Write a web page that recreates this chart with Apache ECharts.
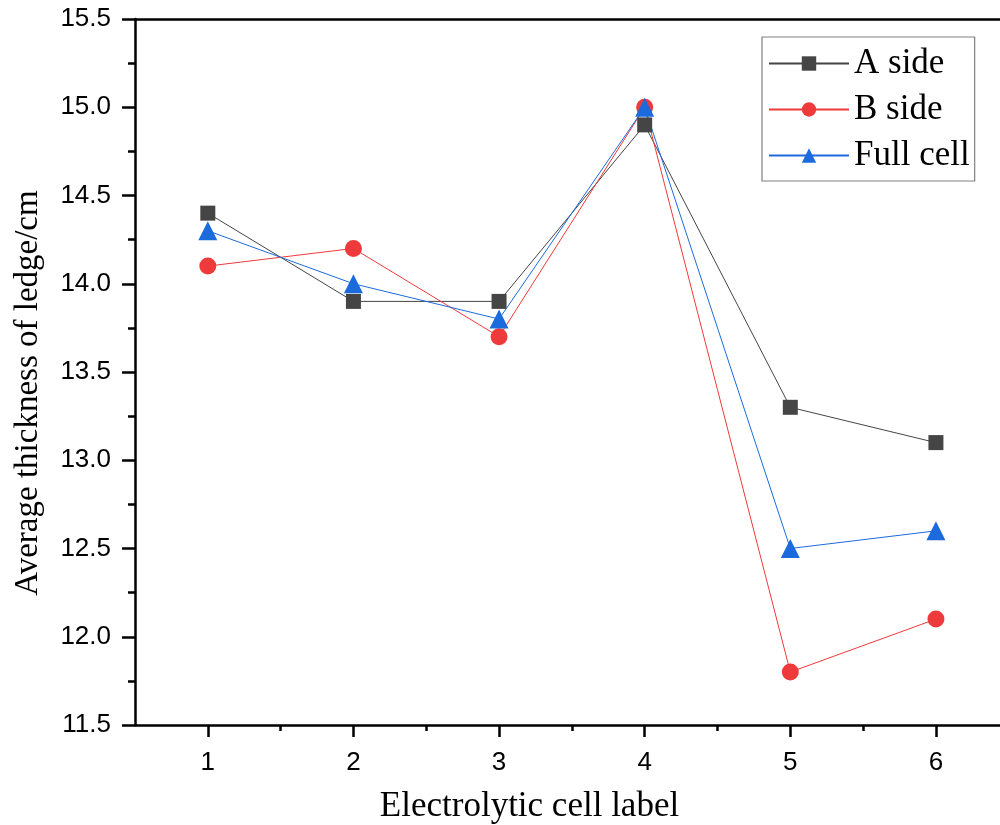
<!DOCTYPE html>
<html>
<head>
<meta charset="utf-8">
<script src="https://cdn.jsdelivr.net/npm/echarts@6/dist/echarts.min.js"></script>
<style>html,body{margin:0;padding:0;background:#fff;overflow:hidden}#c{width:1000px;height:825px}</style>
</head>
<body>
<div id="c"></div>
<script>
const categories = [1, 2, 3, 4, 5, 6];
const aSide = [14.4, 13.9, 13.9, 14.9, 13.3, 13.1];
const bSide = [14.1, 14.2, 13.7, 15.0, 11.8, 12.1];
const fullCell = [14.3, 14.0, 13.8, 15.0, 12.5, 12.6];
const yTicks = [11.5, 12.0, 12.5, 13.0, 13.5, 14.0, 14.5, 15.0, 15.5];
const xMinorTicks = [1.5, 2.5, 3.5, 4.5, 5.5];

const pairs = arr => arr.map((v, i) => [categories[i], v]);
const chart = echarts.init(document.getElementById('c'), null, {renderer: 'canvas'});
const sans = 'Liberation Sans, Arial, sans-serif';
const serif = 'Liberation Serif, Times New Roman, serif';
const axisLine = {show: true, lineStyle: {color: '#000', width: 2.5}};
const tickStyle = {width: 2.5, color: '#000'};
const xMin = 0.5, xMax = 6.44;
chart.setOption({
  animation: false,
  grid: {left: 135, top: 19, right: 0, bottom: 100, containLabel: false, outerBoundsMode: 'none'},
  legend: {
    orient: 'vertical', left: 762, top: 37,
    padding: [9, 5, 8, 6], itemGap: 11,
    itemWidth: 80, itemHeight: 18,
    borderColor: '#808080', borderWidth: 1.2,
    textStyle: {fontFamily: serif, fontSize: 35, color: '#000'},
    data: ['A side', 'B side', 'Full cell']
  },
  xAxis: [{
    type: 'value', position: 'bottom', min: xMin, max: xMax,
    axisLine: axisLine,
    axisTick: {show: true, inside: false, length: 12, lineStyle: tickStyle, customValues: categories},
    splitLine: {show: false},
    axisLabel: {margin: 25, fontFamily: sans, fontSize: 26, color: '#000', customValues: categories},
    name: 'Electrolytic cell label', nameLocation: 'middle', nameGap: 64,
    nameTextStyle: {fontFamily: serif, fontSize: 35, color: '#000', padding: [0, 76, 0, 0]}
  }, {
    type: 'value', position: 'bottom', min: xMin, max: xMax,
    axisLine: {show: false},
    axisTick: {show: true, inside: false, length: 6, lineStyle: tickStyle, customValues: xMinorTicks},
    axisLabel: {show: false}, splitLine: {show: false}
  }, {
    type: 'value', position: 'top', min: xMin, max: xMax,
    axisLine: axisLine, axisTick: {show: false}, axisLabel: {show: false}, splitLine: {show: false}
  }],
  yAxis: [{
    type: 'value', min: 11.5, max: 15.5, interval: 0.5,
    axisLine: axisLine,
    axisTick: {show: true, inside: false, length: 13, lineStyle: tickStyle},
    minorTick: {show: true, splitNumber: 2, length: 7, lineStyle: tickStyle},
    splitLine: {show: false},
    axisLabel: {margin: 24, fontFamily: sans, fontSize: 26, color: '#000',
      formatter: v => yTicks.indexOf(v) >= 0 ? v.toFixed(1) : ''},
    name: 'Average thickness of ledge/cm', nameLocation: 'middle', nameGap: 90,
    nameTextStyle: {fontFamily: serif, fontSize: 33, color: '#000', padding: [0, 42, 0, 0]}
  }],
  series: [{
    name: 'A side', type: 'line', data: pairs(aSide),
    symbol: 'rect', symbolSize: 15,
    itemStyle: {color: '#454545'}, lineStyle: {color: '#454545', width: 1}
  }, {
    name: 'B side', type: 'line', data: pairs(bSide),
    symbol: 'circle', symbolSize: 17,
    itemStyle: {color: '#ee3a3a'}, lineStyle: {color: '#ee3a3a', width: 1}
  }, {
    name: 'Full cell', type: 'line', data: pairs(fullCell),
    symbol: 'triangle', symbolSize: 19,
    itemStyle: {color: '#1c6bdc'}, lineStyle: {color: '#1c6bdc', width: 1}
  }]
});
</script>
</body>
</html>
